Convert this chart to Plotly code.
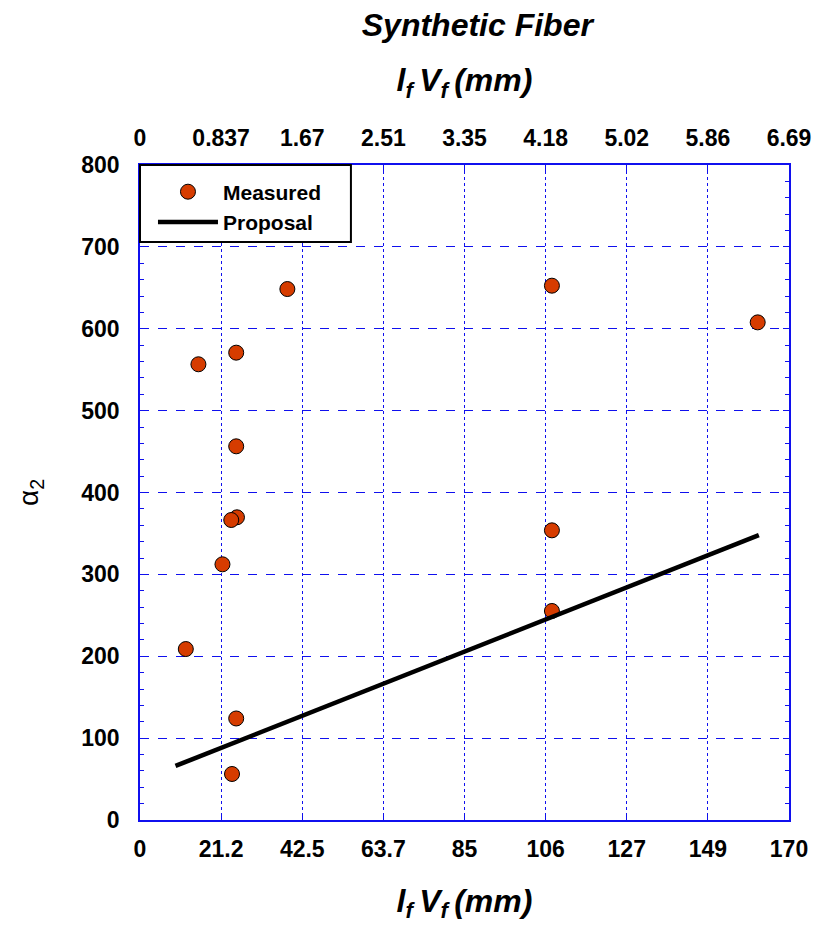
import plotly.graph_objects as go

# Measured points: l_f * V_f (mm) vs alpha_2
measured_x = [15.3, 25.2, 38.6, 107.9, 161.8, 25.2, 25.4, 23.9, 21.6, 107.9, 107.9, 12.0, 25.2, 24.1]
measured_y = [556.6, 570.8, 648.5, 652.6, 607.8, 456.4, 369.7, 366.4, 312.3, 353.8, 255.3, 208.8, 124.0, 56.2]

# Proposed relation, drawn between its two end points
proposal_x = [9.3, 162.1]
proposal_y = [66.0, 348.0]

# Bottom axis ticks (mm) and matching top axis labels
x_tickvals = [0, 21.25, 42.5, 63.75, 85, 106.25, 127.5, 148.75, 170]
x_ticktext = ["0", "21.2", "42.5", "63.7", "85", "106", "127", "149", "170"]
x2_ticktext = ["0", "0.837", "1.67", "2.51", "3.35", "4.18", "5.02", "5.86", "6.69"]
y_tickvals = [0, 100, 200, 300, 400, 500, 600, 700, 800]

BLUE = "#1010ee"
FONT = "Liberation Sans, Arial, Helvetica, sans-serif"
NARROW = "Liberation Sans Narrow, Arial Narrow, Liberation Sans, Arial, sans-serif"
TICKFONT = dict(size=23, family=FONT, color="black", weight="bold")

fig = go.Figure()

fig.add_trace(go.Scatter(
    x=measured_x, y=measured_y, mode="markers", name="Measured",
    marker=dict(size=15, color="#d63c00", line=dict(color="black", width=1)),
))
fig.add_trace(go.Scatter(
    x=proposal_x, y=proposal_y, mode="lines", name="Proposal",
    line=dict(color="black", width=4.5),
))
# carrier for the top axis
fig.add_trace(go.Scatter(
    x=[x_tickvals[0], x_tickvals[-1]], y=[y_tickvals[0], y_tickvals[0]],
    xaxis="x2", mode="markers", marker=dict(opacity=0), showlegend=False,
    hoverinfo="skip",
))

axis_title = "<b><i>l<sub>f </sub>V<sub>f </sub>(mm)</i></b>"

fig.update_layout(
    width=823, height=929,
    margin=dict(l=140, r=27, t=165, b=109),
    paper_bgcolor="white", plot_bgcolor="white",
    font=dict(family=FONT, color="black"),
    title=dict(
        text="<b><i>Synthetic Fiber</i></b>",
        font=dict(family=NARROW, size=32, color="black"),
        x=0.58, xanchor="center", y=1 - 25 / 929, yanchor="middle",
    ),
    xaxis=dict(
        range=[0, 170], tickmode="array", tickvals=x_tickvals, ticktext=x_ticktext,
        tickfont=TICKFONT,
        showgrid=True, gridcolor=BLUE, griddash="dot", gridwidth=1,
        showline=True, linecolor=BLUE, linewidth=1.5,
        ticks="inside", ticklen=6, tickcolor=BLUE,
        ticklabelstandoff=8,
        zeroline=False,
        title=dict(text=axis_title, font=dict(family=NARROW, size=32), standoff=28),
    ),
    xaxis2=dict(
        range=[0, 170], overlaying="x", side="top", anchor="y",
        tickmode="array", tickvals=x_tickvals, ticktext=x2_ticktext,
        tickfont=TICKFONT,
        showgrid=False, showline=True, linecolor=BLUE, linewidth=1.5,
        ticks="inside", ticklen=6, tickcolor=BLUE,
        ticklabelstandoff=8,
        zeroline=False,
        title=dict(text=axis_title, font=dict(family=NARROW, size=32), standoff=24),
    ),
    yaxis=dict(
        range=[0, 800], tickmode="array", tickvals=y_tickvals,
        tickfont=TICKFONT,
        showgrid=True, gridcolor=BLUE, griddash="dash", gridwidth=1,
        showline=True, linecolor=BLUE, linewidth=1.5, mirror="ticks",
        ticks="inside", ticklen=6, tickcolor=BLUE,
        minor=dict(dtick=20, ticks="inside", ticklen=4, tickcolor=BLUE, showgrid=False),
        ticklabelstandoff=14,
        zeroline=False,
        title=dict(text="α<sub>2</sub>", font=dict(family=FONT, size=28), standoff=34),
    ),
    legend=dict(
        x=0.02, y=0.99, xanchor="left", yanchor="top",
        bgcolor="rgba(0,0,0,0)", borderwidth=0,
        font=dict(size=21, family=FONT, color="black", weight="bold"),
        itemwidth=60, tracegroupgap=0,
    ),
    shapes=[dict(
        type="rect", xref="paper", yref="paper",
        x0=0, x1=0.325, y0=0.8824, y1=1,
        line=dict(color="black", width=2), fillcolor="white", layer="above",
    )],
    showlegend=True,
)

fig.write_html("out.html")
